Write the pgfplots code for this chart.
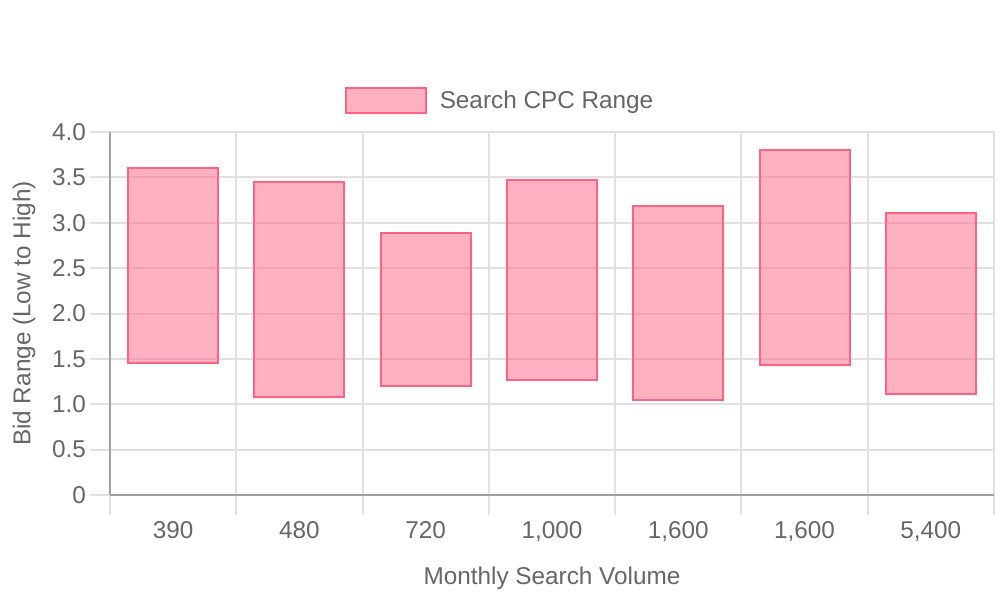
\documentclass[border=0pt]{standalone}
\usepackage{fontspec}
\setmainfont{Liberation Sans}
\usepackage{pgfplots}
\usepackage{pgfplotstable}
\pgfplotsset{compat=1.18}

\definecolor{cpcline}{RGB}{255,99,132}
\definecolor{txtgray}{RGB}{102,102,102}
\definecolor{gridgray}{RGB}{225,225,225}
\definecolor{axgray}{RGB}{160,160,160}

% low / high bid per keyword
\pgfplotstableread{
idx low high
0 1.45 3.60
1 1.08 3.45
2 1.20 2.89
3 1.27 3.47
4 1.05 3.18
5 1.43 3.80
6 1.11 3.11
}\cpcdata

\begin{document}
\begin{tikzpicture}[x=1bp,y=1bp]
\path[use as bounding box] (-55bp,-52.5bp) rectangle (445bp,247.5bp);
\begin{axis}[
  at={(0,0)}, anchor=south west,
  scale only axis,
  width=442bp, height=181.5bp,
  ybar stacked,
  bar width=45bp,
  xmin=-0.5, xmax=6.5,
  ymin=0, ymax=4,
  font=\fontsize{12.2}{14}\selectfont,
  every tick label/.append style={text=txtgray},
  xtick={0,...,6},
  xticklabels={390,480,720,{1,000},{1,600},{1,600},{5,400}},
  minor xtick={-0.5,0.5,...,6.5},
  xminorgrids,
  ytick={0,0.5,...,4},
  yticklabels={0,0.5,1.0,1.5,2.0,2.5,3.0,3.5,4.0},
  ymajorgrids,
  major grid style={gridgray, line width=1bp},
  minor grid style={gridgray, line width=1bp},
  tick align=outside,
  major tick length=10bp,
  minor tick length=10bp,
  major x tick style={draw=none},
  minor x tick style={gridgray, line width=1bp},
  ytick style={gridgray, line width=1bp},
  axis x line*=bottom,
  axis y line*=left,
  axis line style={axgray, line width=1bp, -},
  xticklabel style={yshift=0.5bp},
  yticklabel style={xshift=1.5bp},
  xlabel={Monthly Search Volume},
  ylabel={Bid Range (Low to High)},
  label style={text=txtgray},
  xlabel style={at={(axis description cs:0.5,0)}, anchor=center, yshift=-41.5bp},
  ylabel style={at={(axis description cs:0,0.5)}, anchor=center, yshift=43bp},
  legend style={at={(axis description cs:0.4474,1.086)}, anchor=center,
    draw=none, fill=none, text=txtgray, font=\fontsize{12.2}{14}\selectfont,
    /tikz/every even column/.append style={column sep=0bp},
    nodes={inner xsep=6.5bp}},
  legend image code/.code={\draw[#1] (0bp,-6.25bp) rectangle (40bp,6.25bp);},
]
\addplot[draw=none, fill=none, forget plot] table[x=idx, y=low] {\cpcdata};
\addplot[draw=cpcline, line width=1bp, fill=cpcline, fill opacity=0.5]
  table[x=idx, y expr=\thisrow{high}-\thisrow{low}] {\cpcdata};
\addlegendentry{Search CPC Range}
\end{axis}
\end{tikzpicture}
\end{document}
